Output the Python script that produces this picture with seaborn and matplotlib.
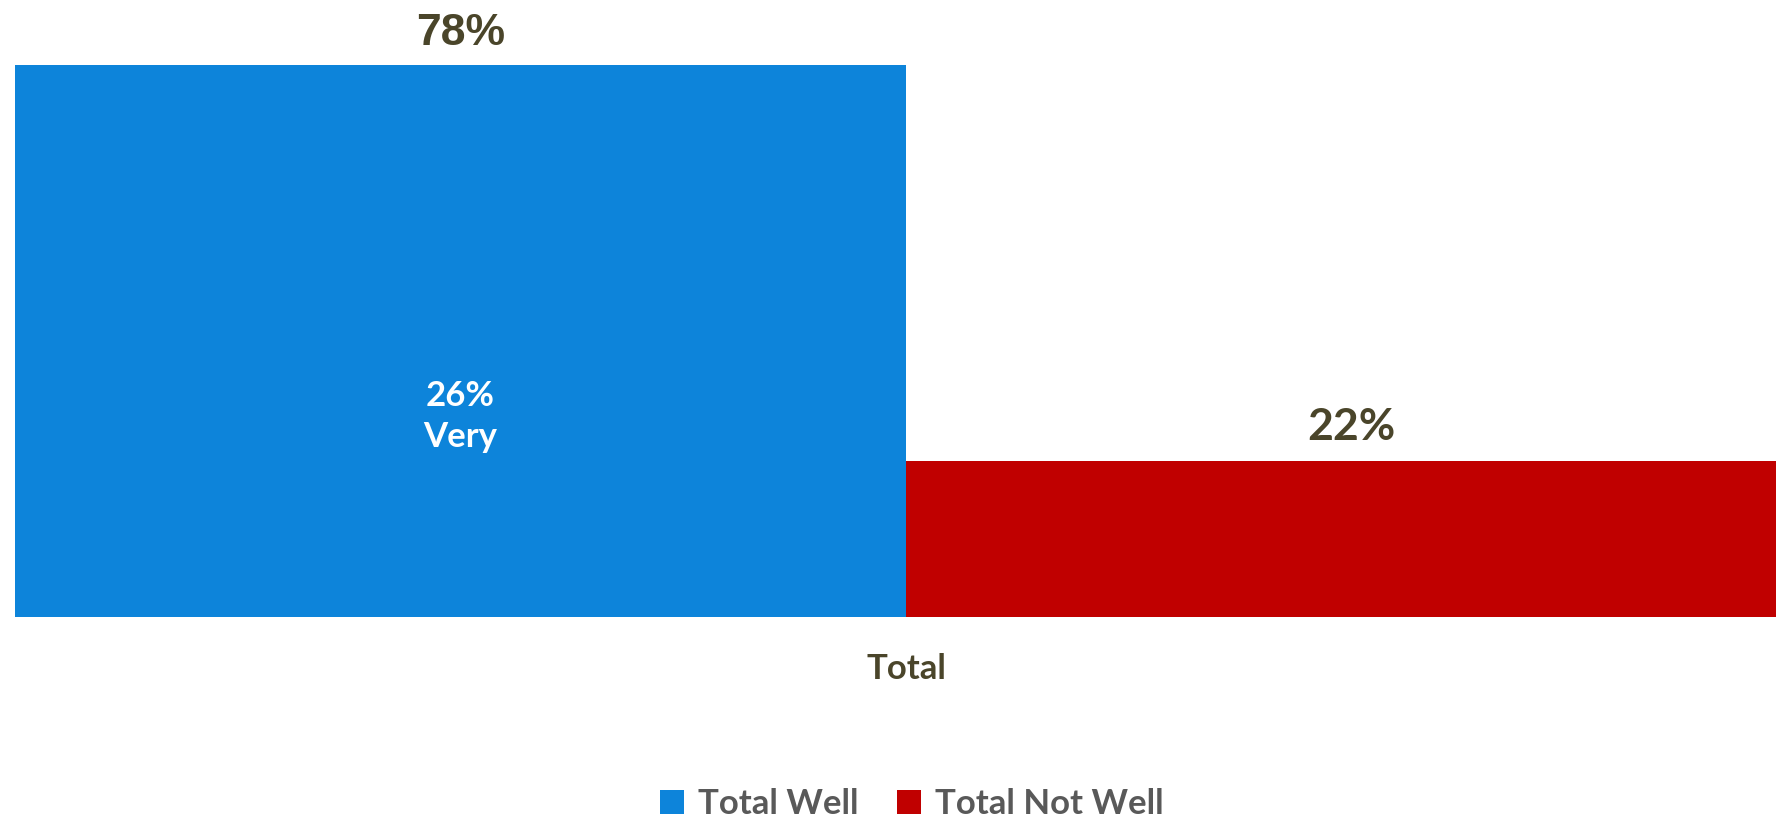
import matplotlib
matplotlib.use("Agg")
import matplotlib.pyplot as plt
import seaborn as sns
import pandas as pd

# Data
categories = ["Total"]
series = ["Total Well", "Total Not Well"]
values = [78, 22]
inner_value = 26
inner_word = "Very"
colors = ["#0D84DA", "#C00000"]
text_color = "#4A452A"
legend_color = "#595959"

df = pd.DataFrame({
    "Category": categories * len(series),
    "Series": series,
    "Value": values,
})

sns.set_theme(style="white")
plt.rcParams["font.family"] = ["Lato", "DejaVu Sans"]

W, H = 1776, 822
fig = plt.figure(figsize=(W / 100, H / 100), dpi=100)
fig.patch.set_facecolor("white")

# axes in pixel terms: left edge of first bar, baseline and 78% top
left_px, bottom_px, top_px, half_px = 15, 617, 65, 891
ax = fig.add_axes([left_px / W, 1 - bottom_px / H,
                   2 * half_px / W, (bottom_px - top_px) / H])

sns.barplot(data=df, x="Category", y="Value", hue="Series",
            palette=colors, width=1.0, saturation=1.0, ax=ax,
            edgecolor="none", linewidth=0)

ax.set_xlim(-0.5, 0.5)
ax.set_ylim(0, max(values))
ax.set_xlabel("")
ax.set_ylabel("")
ax.set_yticks([])
for s in ax.spines.values():
    s.set_visible(False)
ax.tick_params(axis="x", length=0, pad=26)
for t in ax.get_xticklabels():
    t.set_fontsize(25)
    t.set_fontweight("bold")
    t.set_color(text_color)

# value labels above the bars
c_well, c_not = ax.containers[0], ax.containers[1]
ax.bar_label(c_well, labels=[f"{values[0]}%"], padding=8,
             fontsize=32, fontweight="bold", color=text_color,
             family=["Liberation Sans", "DejaVu Sans"], clip_on=False)
ax.bar_label(c_not, labels=[f"{values[1]}%"], padding=10,
             fontsize=32, fontweight="bold", color=text_color, clip_on=False)

# inner label on the first bar
bar0 = c_well.patches[0]
cx = bar0.get_x() + bar0.get_width() / 2
ax.text(cx, 29.8, f"{inner_value}%", ha="center", va="baseline",
        fontsize=25, fontweight="bold", color="white")
ax.text(cx, 24.0, inner_word, ha="center", va="baseline",
        fontsize=25, fontweight="bold", color="white")

# legend at the bottom
handles, labels = ax.get_legend_handles_labels()
ax.legend_.remove()
leg = fig.legend(handles, labels, loc="upper center",
                 bbox_to_anchor=(912 / W, 1 - 788 / H), ncol=2,
                 frameon=False, fontsize=25, handlelength=0.7,
                 handleheight=0.7, handletextpad=0.4, columnspacing=1.1,
                 borderaxespad=0, borderpad=0)
for t in leg.get_texts():
    t.set_color(legend_color)
    t.set_fontweight("bold")

fig.savefig("out.png", dpi=100, facecolor="white")
